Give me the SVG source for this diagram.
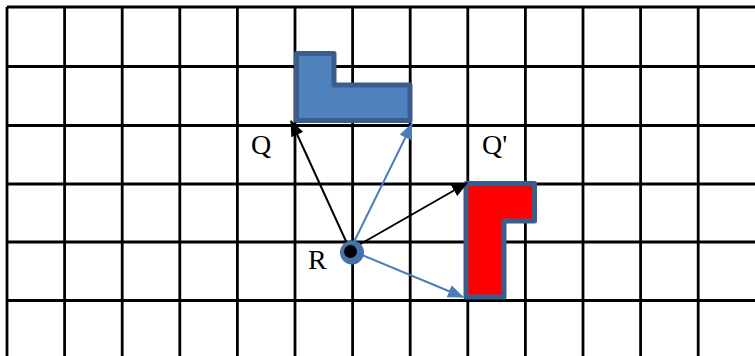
<svg xmlns="http://www.w3.org/2000/svg" width="755" height="356" viewBox="0 0 755 356">
<style>
.grid line{stroke:#000;stroke-width:2.8}
.shape{stroke:#3a5d8c;stroke-width:5;stroke-linejoin:round}
.lbl{font-family:"Liberation Serif","Times New Roman",serif;font-size:28px;fill:#000}
.ab{stroke:#000;stroke-width:2;fill:none}
.au{stroke:#4a7ebb;stroke-width:2;fill:none}
</style>
<defs>
<marker id="hb" markerUnits="userSpaceOnUse" markerWidth="16" markerHeight="13" refX="15" refY="6.5" orient="auto" viewBox="0 0 16 13">
<path d="M0,0 L16,6.5 L0,13 z" fill="#000"/>
</marker>
<marker id="hu" markerUnits="userSpaceOnUse" markerWidth="16" markerHeight="13" refX="15" refY="6.5" orient="auto" viewBox="0 0 16 13">
<path d="M0,0 L16,6.5 L0,13 z" fill="#4a7ebb"/>
</marker>
</defs>
<rect width="755" height="356" fill="#fff"/>
<g class="grid" id="grid">
<line x1="7" y1="7" x2="7" y2="356"/>
<line x1="64.6" y1="7" x2="64.6" y2="356"/>
<line x1="122.2" y1="7" x2="122.2" y2="356"/>
<line x1="179.8" y1="7" x2="179.8" y2="356"/>
<line x1="237.4" y1="7" x2="237.4" y2="356"/>
<line x1="295" y1="7" x2="295" y2="356"/>
<line x1="352.6" y1="7" x2="352.6" y2="356"/>
<line x1="410.2" y1="7" x2="410.2" y2="356"/>
<line x1="467.8" y1="7" x2="467.8" y2="356"/>
<line x1="525.4" y1="7" x2="525.4" y2="356"/>
<line x1="583" y1="7" x2="583" y2="356"/>
<line x1="640.6" y1="7" x2="640.6" y2="356"/>
<line x1="698.2" y1="7" x2="698.2" y2="356"/>
<line x1="7" y1="7" x2="755" y2="7"/>
<line x1="7" y1="66.5" x2="755" y2="66.5"/>
<line x1="7" y1="125.5" x2="755" y2="125.5"/>
<line x1="7" y1="184" x2="755" y2="184"/>
<line x1="7" y1="242" x2="755" y2="242"/>
<line x1="7" y1="300.5" x2="755" y2="300.5"/>
</g>
<g id="shapeQ">
<path class="shape" fill="#4f81bd" d="M296.5,53.5 L334,53.5 L334,85 L410,85 L410,120.5 L296.5,120.5 Z"/>
</g>
<g id="shapeQp">
<path class="shape" fill="#ff0000" d="M466,183.5 L534.5,183.5 L534.5,221 L504,221 L504,297 L466,297 Z"/>
</g>
<g id="connectors">
<line class="ab" x1="350" y1="250" x2="291" y2="121" marker-end="url(#hb)"/>
<line class="au" x1="350" y1="250" x2="412" y2="124" marker-end="url(#hu)"/>
<line class="ab" x1="350" y1="250" x2="467" y2="183" marker-end="url(#hb)"/>
<line class="au" x1="350" y1="250" x2="463" y2="297" marker-end="url(#hu)"/>
</g>
<g id="pointR">
<circle cx="352" cy="252.5" r="12" fill="#4472aa"/>
<circle cx="350.5" cy="251.5" r="6.5" fill="#000"/>
</g>
<g id="labelQ"><text class="lbl" x="251" y="154">Q</text></g>
<g id="labelQp"><text class="lbl" x="482" y="154">Q'</text></g>
<g id="labelR"><text class="lbl" x="308" y="269">R</text></g>
</svg>
